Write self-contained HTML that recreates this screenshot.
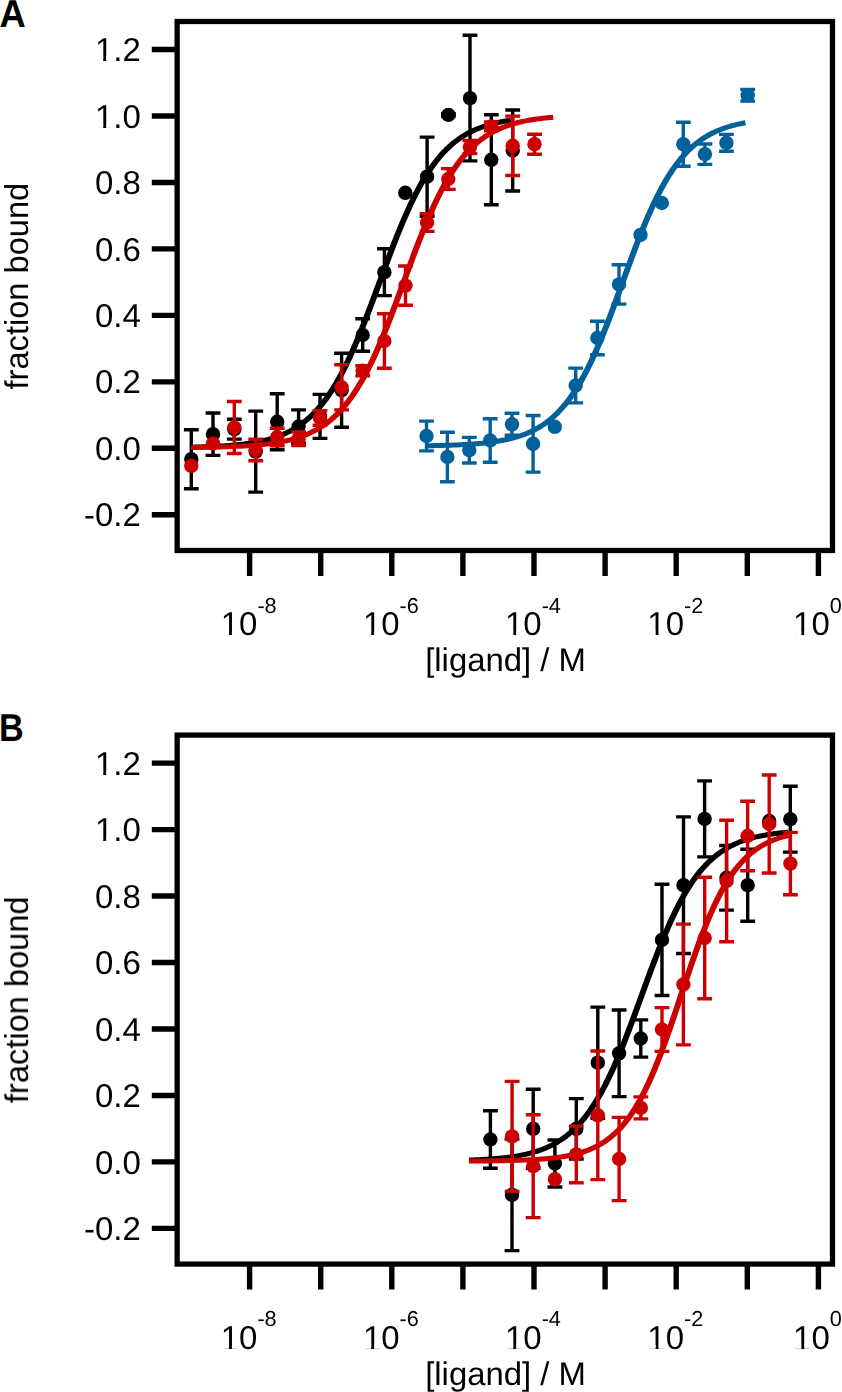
<!DOCTYPE html>
<html><head><meta charset="utf-8"><style>
html,body{margin:0;padding:0;background:#fff;overflow:hidden;}
svg{display:block;}
.t{font-family:"Liberation Sans",sans-serif;font-size:33px;fill:#000;font-kerning:none;text-rendering:geometricPrecision;opacity:0.999;}
.L{font-family:"Liberation Sans",sans-serif;font-size:38.8px;font-weight:bold;fill:#000;font-kerning:none;text-rendering:geometricPrecision;opacity:0.999;}
</style></head><body>
<svg width="842" height="1392" viewBox="0 0 842 1392">
<rect x="177.15" y="21.5" width="655.35" height="529" fill="none" stroke="#000" stroke-width="5.3"/>
<path d="M151.8,49.54H177M151.8,116.00H177M151.8,182.46H177M151.8,248.92H177M151.8,315.38H177M151.8,381.84H177M151.8,448.30H177M151.8,514.76H177M249.60,550V576M320.70,550V576M391.80,550V576M462.90,550V576M534.00,550V576M605.10,550V576M676.20,550V576M747.30,550V576M818.40,550V576" stroke="#000" stroke-width="5.4" fill="none"/>
<g class="t"><text x="94.93" y="61.14">1.2</text><text x="94.93" y="127.60">1.0</text><text x="94.93" y="194.06">0.8</text><text x="94.93" y="260.52">0.6</text><text x="94.93" y="326.98">0.4</text><text x="94.93" y="393.44">0.2</text><text x="94.93" y="459.90">0.0</text><text x="83.94" y="526.36">-0.2</text><text x="220.68" y="634.90">10<tspan x="257.39" y="612.80" font-size="21.7">-8</tspan></text><text x="362.89" y="634.90">10<tspan x="399.60" y="612.80" font-size="21.7">-6</tspan></text><text x="504.93" y="634.90">10<tspan x="541.64" y="612.80" font-size="21.7">-4</tspan></text><text x="647.36" y="634.90">10<tspan x="684.06" y="612.80" font-size="21.7">-2</tspan></text><text x="793.05" y="634.90">10<tspan x="829.76" y="612.80" font-size="21.7">0</tspan></text><text transform="translate(425.16,671.00) scale(1.0056,1)" font-size="32.7">[ligand] / M</text><text transform="translate(28.0,389.00) rotate(-90) scale(0.9881,1)" x="-0.47" y="0" font-size="33">fraction bound</text></g>
<rect x="97.02" y="57.68" width="6.20" height="3.79" fill="#fff"/><rect x="106.14" y="57.68" width="5.95" height="3.79" fill="#fff"/><rect x="97.02" y="124.14" width="6.20" height="3.79" fill="#fff"/><rect x="106.14" y="124.14" width="5.95" height="3.79" fill="#fff"/><rect x="222.78" y="631.44" width="6.20" height="3.79" fill="#fff"/><rect x="231.90" y="631.44" width="5.95" height="3.79" fill="#fff"/><rect x="364.98" y="631.44" width="6.20" height="3.79" fill="#fff"/><rect x="374.10" y="631.44" width="5.95" height="3.79" fill="#fff"/><rect x="507.03" y="631.44" width="6.20" height="3.79" fill="#fff"/><rect x="516.15" y="631.44" width="5.95" height="3.79" fill="#fff"/><rect x="649.45" y="631.44" width="6.20" height="3.79" fill="#fff"/><rect x="658.57" y="631.44" width="5.95" height="3.79" fill="#fff"/><rect x="795.14" y="631.44" width="6.20" height="3.79" fill="#fff"/><rect x="804.26" y="631.44" width="5.95" height="3.79" fill="#fff"/>
<rect x="177.15" y="735.1" width="655.35" height="529" fill="none" stroke="#000" stroke-width="5.3"/>
<path d="M151.8,763.14H177M151.8,829.60H177M151.8,896.06H177M151.8,962.52H177M151.8,1028.98H177M151.8,1095.44H177M151.8,1161.90H177M151.8,1228.36H177M249.60,1263.6V1289.6M320.70,1263.6V1289.6M391.80,1263.6V1289.6M462.90,1263.6V1289.6M534.00,1263.6V1289.6M605.10,1263.6V1289.6M676.20,1263.6V1289.6M747.30,1263.6V1289.6M818.40,1263.6V1289.6" stroke="#000" stroke-width="5.4" fill="none"/>
<g class="t"><text x="94.93" y="774.74">1.2</text><text x="94.93" y="841.20">1.0</text><text x="94.93" y="907.66">0.8</text><text x="94.93" y="974.12">0.6</text><text x="94.93" y="1040.58">0.4</text><text x="94.93" y="1107.04">0.2</text><text x="94.93" y="1173.50">0.0</text><text x="83.94" y="1239.96">-0.2</text><text x="220.68" y="1348.50">10<tspan x="257.39" y="1326.40" font-size="21.7">-8</tspan></text><text x="362.89" y="1348.50">10<tspan x="399.60" y="1326.40" font-size="21.7">-6</tspan></text><text x="504.93" y="1348.50">10<tspan x="541.64" y="1326.40" font-size="21.7">-4</tspan></text><text x="647.36" y="1348.50">10<tspan x="684.06" y="1326.40" font-size="21.7">-2</tspan></text><text x="793.05" y="1348.50">10<tspan x="829.76" y="1326.40" font-size="21.7">0</tspan></text><text transform="translate(425.16,1384.60) scale(1.0056,1)" font-size="32.7">[ligand] / M</text><text transform="translate(28.0,1102.60) rotate(-90) scale(0.9881,1)" x="-0.47" y="0" font-size="33">fraction bound</text></g>
<rect x="97.02" y="771.28" width="6.20" height="3.79" fill="#fff"/><rect x="106.14" y="771.28" width="5.95" height="3.79" fill="#fff"/><rect x="97.02" y="837.74" width="6.20" height="3.79" fill="#fff"/><rect x="106.14" y="837.74" width="5.95" height="3.79" fill="#fff"/><rect x="222.78" y="1345.04" width="6.20" height="3.79" fill="#fff"/><rect x="231.90" y="1345.04" width="5.95" height="3.79" fill="#fff"/><rect x="364.98" y="1345.04" width="6.20" height="3.79" fill="#fff"/><rect x="374.10" y="1345.04" width="5.95" height="3.79" fill="#fff"/><rect x="507.03" y="1345.04" width="6.20" height="3.79" fill="#fff"/><rect x="516.15" y="1345.04" width="5.95" height="3.79" fill="#fff"/><rect x="649.45" y="1345.04" width="6.20" height="3.79" fill="#fff"/><rect x="658.57" y="1345.04" width="5.95" height="3.79" fill="#fff"/><rect x="795.14" y="1345.04" width="6.20" height="3.79" fill="#fff"/><rect x="804.26" y="1345.04" width="5.95" height="3.79" fill="#fff"/>
<text class="L" transform="translate(-0.38,26.9) scale(0.937,1)">A</text>
<text class="L" transform="translate(-1.04,741.1) scale(0.881,1)">B</text>
<path transform="scale(1.2,1)" d="M159.167,447.20 L160.282,447.17 L161.398,447.14 L162.514,447.11 L163.630,447.07 L164.745,447.03 L165.861,446.99 L166.977,446.95 L168.093,446.91 L169.209,446.87 L170.324,446.82 L171.440,446.77 L172.556,446.72 L173.672,446.67 L174.787,446.62 L175.903,446.56 L177.019,446.50 L178.135,446.44 L179.250,446.37 L180.366,446.30 L181.482,446.23 L182.598,446.16 L183.713,446.08 L184.829,446.00 L185.945,445.92 L187.061,445.83 L188.176,445.74 L189.292,445.64 L190.408,445.54 L191.524,445.43 L192.639,445.32 L193.755,445.21 L194.871,445.09 L195.987,444.97 L197.103,444.84 L198.218,444.70 L199.334,444.56 L200.450,444.41 L201.566,444.26 L202.681,444.10 L203.797,443.93 L204.913,443.75 L206.029,443.57 L207.144,443.38 L208.260,443.18 L209.376,442.97 L210.492,442.75 L211.607,442.53 L212.723,442.29 L213.839,442.04 L214.955,441.79 L216.070,441.52 L217.186,441.24 L218.302,440.95 L219.418,440.64 L220.533,440.33 L221.649,440.00 L222.765,439.65 L223.881,439.29 L224.997,438.92 L226.112,438.53 L227.228,438.12 L228.344,437.70 L229.460,437.26 L230.575,436.80 L231.691,436.32 L232.807,435.82 L233.923,435.30 L235.038,434.76 L236.154,434.20 L237.270,433.61 L238.386,433.00 L239.501,432.36 L240.617,431.70 L241.733,431.02 L242.849,430.30 L243.964,429.56 L245.080,428.78 L246.196,427.98 L247.312,427.15 L248.427,426.28 L249.543,425.38 L250.659,424.44 L251.775,423.47 L252.891,422.46 L254.006,421.42 L255.122,420.33 L256.238,419.20 L257.354,418.04 L258.469,416.83 L259.585,415.57 L260.701,414.27 L261.817,412.93 L262.932,411.54 L264.048,410.10 L265.164,408.61 L266.280,407.06 L267.395,405.47 L268.511,403.83 L269.627,402.13 L270.743,400.38 L271.858,398.57 L272.974,396.70 L274.090,394.78 L275.206,392.80 L276.321,390.76 L277.437,388.66 L278.553,386.50 L279.669,384.28 L280.785,382.00 L281.900,379.66 L283.016,377.26 L284.132,374.79 L285.248,372.27 L286.363,369.69 L287.479,367.04 L288.595,364.33 L289.711,361.57 L290.826,358.75 L291.942,355.86 L293.058,352.93 L294.174,349.93 L295.289,346.89 L296.405,343.78 L297.521,340.63 L298.637,337.43 L299.752,334.18 L300.868,330.89 L301.984,327.56 L303.100,324.18 L304.215,320.77 L305.331,317.32 L306.447,313.83 L307.563,310.32 L308.679,306.78 L309.794,303.22 L310.910,299.64 L312.026,296.04 L313.142,292.43 L314.257,288.81 L315.373,285.18 L316.489,281.55 L317.605,277.92 L318.720,274.29 L319.836,270.67 L320.952,267.06 L322.068,263.47 L323.183,259.89 L324.299,256.33 L325.415,252.79 L326.531,249.29 L327.646,245.81 L328.762,242.36 L329.878,238.95 L330.994,235.58 L332.109,232.25 L333.225,228.97 L334.341,225.72 L335.457,222.53 L336.573,219.39 L337.688,216.29 L338.804,213.25 L339.920,210.27 L341.036,207.34 L342.151,204.46 L343.267,201.65 L344.383,198.89 L345.499,196.19 L346.614,193.55 L347.730,190.98 L348.846,188.46 L349.962,186.01 L351.077,183.61 L352.193,181.28 L353.309,179.01 L354.425,176.80 L355.540,174.65 L356.656,172.56 L357.772,170.52 L358.888,168.55 L360.003,166.64 L361.119,164.78 L362.235,162.98 L363.351,161.23 L364.467,159.54 L365.582,157.90 L366.698,156.32 L367.814,154.78 L368.930,153.30 L370.045,151.86 L371.161,150.48 L372.277,149.14 L373.393,147.85 L374.508,146.60 L375.624,145.39 L376.740,144.23 L377.856,143.11 L378.971,142.03 L380.087,140.99 L381.203,139.99 L382.319,139.02 L383.434,138.09 L384.550,137.19 L385.666,136.33 L386.782,135.50 L387.897,134.70 L389.013,133.93 L390.129,133.19 L391.245,132.48 L392.361,131.80 L393.476,131.14 L394.592,130.51 L395.708,129.90 L396.824,129.32 L397.939,128.76 L399.055,128.22 L400.171,127.70 L401.287,127.21 L402.402,126.73 L403.518,126.27 L404.634,125.83 L405.750,125.41 L406.865,125.01 L407.981,124.62 L409.097,124.25 L410.213,123.89 L411.328,123.55 L412.444,123.22 L413.560,122.90 L414.676,122.60 L415.791,122.31 L416.907,122.03 L418.023,121.77 L419.139,121.51 L420.255,121.27 L421.370,121.03 L422.486,120.81 L423.602,120.59 L424.718,120.38 L425.833,120.19" stroke="#000" stroke-width="5.0" fill="none"/>
<path d="M191.30,429.70V488.70M183.90,429.70H198.70M183.90,488.70H198.70M213.00,413.00V455.40M205.60,413.00H220.40M205.60,455.40H220.40M234.30,419.30V439.10M226.90,419.30H241.70M226.90,439.10H241.70M255.70,411.10V492.10M248.30,411.10H263.10M248.30,492.10H263.10M277.20,393.80V449.80M269.80,393.80H284.60M269.80,449.80H284.60M298.60,409.90V443.10M291.20,409.90H306.00M291.20,443.10H306.00M320.00,394.40V438.40M312.60,394.40H327.40M312.60,438.40H327.40M341.60,353.20V427.20M334.20,353.20H349.00M334.20,427.20H349.00M362.70,318.70V351.30M355.30,318.70H370.10M355.30,351.30H370.10M384.40,248.80V295.60M377.00,248.80H391.80M377.00,295.60H391.80M427.10,137.10V216.30M419.70,137.10H434.50M419.70,216.30H434.50M448.40,113.70V116.10M441.00,113.70H455.80M441.00,116.10H455.80M470.00,35.30V160.90M462.60,35.30H477.40M462.60,160.90H477.40M491.30,114.80V204.80M483.90,114.80H498.70M483.90,204.80H498.70M512.70,110.00V191.00M505.30,110.00H520.10M505.30,191.00H520.10" stroke="#000" stroke-width="3.4" fill="none"/>
<circle cx="191.30" cy="459.20" r="7.2" fill="#000"/>
<circle cx="213.00" cy="434.20" r="7.2" fill="#000"/>
<circle cx="234.30" cy="429.20" r="7.2" fill="#000"/>
<circle cx="255.70" cy="451.60" r="7.2" fill="#000"/>
<circle cx="277.20" cy="421.80" r="7.2" fill="#000"/>
<circle cx="298.60" cy="426.50" r="7.2" fill="#000"/>
<circle cx="320.00" cy="416.40" r="7.2" fill="#000"/>
<circle cx="341.60" cy="390.20" r="7.2" fill="#000"/>
<circle cx="362.70" cy="335.00" r="7.2" fill="#000"/>
<circle cx="384.40" cy="272.20" r="7.2" fill="#000"/>
<circle cx="405.30" cy="192.80" r="7.2" fill="#000"/>
<circle cx="427.10" cy="176.70" r="7.2" fill="#000"/>
<circle cx="448.40" cy="114.90" r="7.2" fill="#000"/>
<circle cx="470.00" cy="98.10" r="7.2" fill="#000"/>
<circle cx="491.30" cy="159.80" r="7.2" fill="#000"/>
<circle cx="512.70" cy="150.50" r="7.2" fill="#000"/>
<path transform="scale(1.2,1)" d="M159.167,447.44 L160.430,447.42 L161.692,447.40 L162.955,447.39 L164.218,447.37 L165.481,447.35 L166.744,447.33 L168.007,447.31 L169.270,447.28 L170.533,447.26 L171.796,447.23 L173.059,447.21 L174.321,447.18 L175.584,447.15 L176.847,447.12 L178.110,447.09 L179.373,447.06 L180.636,447.02 L181.899,446.98 L183.162,446.95 L184.425,446.90 L185.688,446.86 L186.950,446.82 L188.213,446.77 L189.476,446.72 L190.739,446.67 L192.002,446.61 L193.265,446.56 L194.528,446.49 L195.791,446.43 L197.054,446.36 L198.317,446.29 L199.579,446.22 L200.842,446.14 L202.105,446.06 L203.368,445.98 L204.631,445.89 L205.894,445.79 L207.157,445.69 L208.420,445.59 L209.683,445.48 L210.946,445.37 L212.209,445.25 L213.471,445.12 L214.734,444.99 L215.997,444.85 L217.260,444.70 L218.523,444.55 L219.786,444.39 L221.049,444.22 L222.312,444.04 L223.575,443.86 L224.838,443.66 L226.100,443.46 L227.363,443.24 L228.626,443.01 L229.889,442.78 L231.152,442.53 L232.415,442.27 L233.678,441.99 L234.941,441.71 L236.204,441.41 L237.467,441.09 L238.729,440.76 L239.992,440.41 L241.255,440.05 L242.518,439.67 L243.781,439.26 L245.044,438.85 L246.307,438.41 L247.570,437.94 L248.833,437.46 L250.096,436.96 L251.358,436.43 L252.621,435.87 L253.884,435.29 L255.147,434.68 L256.410,434.05 L257.673,433.38 L258.936,432.68 L260.199,431.95 L261.462,431.19 L262.725,430.39 L263.987,429.56 L265.250,428.69 L266.513,427.78 L267.776,426.83 L269.039,425.84 L270.302,424.80 L271.565,423.72 L272.828,422.59 L274.091,421.41 L275.354,420.19 L276.616,418.91 L277.879,417.57 L279.142,416.19 L280.405,414.74 L281.668,413.24 L282.931,411.68 L284.194,410.05 L285.457,408.36 L286.720,406.61 L287.983,404.79 L289.245,402.90 L290.508,400.94 L291.771,398.91 L293.034,396.81 L294.297,394.64 L295.560,392.39 L296.823,390.06 L298.086,387.66 L299.349,385.18 L300.612,382.63 L301.874,379.99 L303.137,377.28 L304.400,374.49 L305.663,371.61 L306.926,368.67 L308.189,365.64 L309.452,362.54 L310.715,359.36 L311.978,356.10 L313.241,352.77 L314.503,349.37 L315.766,345.91 L317.029,342.37 L318.292,338.77 L319.555,335.11 L320.818,331.38 L322.081,327.60 L323.344,323.77 L324.607,319.89 L325.870,315.97 L327.132,312.00 L328.395,308.00 L329.658,303.97 L330.921,299.91 L332.184,295.83 L333.447,291.72 L334.710,287.61 L335.973,283.49 L337.236,279.36 L338.499,275.24 L339.762,271.13 L341.024,267.02 L342.287,262.94 L343.550,258.88 L344.813,254.84 L346.076,250.84 L347.339,246.87 L348.602,242.94 L349.865,239.06 L351.128,235.22 L352.391,231.44 L353.653,227.71 L354.916,224.04 L356.179,220.44 L357.442,216.90 L358.705,213.42 L359.968,210.02 L361.231,206.68 L362.494,203.42 L363.757,200.24 L365.020,197.13 L366.282,194.09 L367.545,191.14 L368.808,188.26 L370.071,185.46 L371.334,182.74 L372.597,180.10 L373.860,177.54 L375.123,175.05 L376.386,172.65 L377.649,170.31 L378.911,168.06 L380.174,165.88 L381.437,163.77 L382.700,161.74 L383.963,159.77 L385.226,157.88 L386.489,156.05 L387.752,154.29 L389.015,152.60 L390.278,150.97 L391.540,149.40 L392.803,147.89 L394.066,146.44 L395.329,145.05 L396.592,143.72 L397.855,142.43 L399.118,141.20 L400.381,140.02 L401.644,138.89 L402.907,137.80 L404.169,136.76 L405.432,135.77 L406.695,134.81 L407.958,133.90 L409.221,133.02 L410.484,132.19 L411.747,131.39 L413.010,130.62 L414.273,129.89 L415.536,129.19 L416.798,128.52 L418.061,127.88 L419.324,127.27 L420.587,126.69 L421.850,126.13 L423.113,125.60 L424.376,125.09 L425.639,124.61 L426.902,124.15 L428.165,123.71 L429.427,123.28 L430.690,122.88 L431.953,122.50 L433.216,122.13 L434.479,121.78 L435.742,121.45 L437.005,121.14 L438.268,120.83 L439.531,120.54 L440.794,120.27 L442.056,120.01 L443.319,119.76 L444.582,119.52 L445.845,119.29 L447.108,119.08 L448.371,118.87 L449.634,118.68 L450.897,118.49 L452.160,118.31 L453.423,118.14 L454.685,117.98 L455.948,117.83 L457.211,117.68 L458.474,117.54 L459.737,117.41 L461.000,117.28" stroke="#cc0000" stroke-width="5.0" fill="none"/>
<path d="M234.30,401.50V453.50M226.90,401.50H241.70M226.90,453.50H241.70M255.70,439.20V460.80M248.30,439.20H263.10M248.30,460.80H263.10M277.20,428.30V445.70M269.80,428.30H284.60M269.80,445.70H284.60M298.60,431.90V445.50M291.20,431.90H306.00M291.20,445.50H306.00M320.00,410.70V425.30M312.60,410.70H327.40M312.60,425.30H327.40M341.60,364.70V409.90M334.20,364.70H349.00M334.20,409.90H349.00M362.70,365.70V375.70M355.30,365.70H370.10M355.30,375.70H370.10M384.40,313.80V368.20M377.00,313.80H391.80M377.00,368.20H391.80M405.50,266.00V305.20M398.10,266.00H412.90M398.10,305.20H412.90M427.10,213.60V231.40M419.70,213.60H434.50M419.70,231.40H434.50M448.30,168.60V189.40M440.90,168.60H455.70M440.90,189.40H455.70M469.90,140.50V153.50M462.50,140.50H477.30M462.50,153.50H477.30M491.30,121.90V130.90M483.90,121.90H498.70M483.90,130.90H498.70M512.70,116.10V175.50M505.30,116.10H520.10M505.30,175.50H520.10M534.50,134.20V154.20M527.10,134.20H541.90M527.10,154.20H541.90" stroke="#cc0000" stroke-width="3.4" fill="none"/>
<circle cx="191.30" cy="465.80" r="7.2" fill="#cc0000"/>
<circle cx="213.00" cy="443.50" r="7.2" fill="#cc0000"/>
<circle cx="234.30" cy="427.50" r="7.2" fill="#cc0000"/>
<circle cx="255.70" cy="450.00" r="7.2" fill="#cc0000"/>
<circle cx="277.20" cy="437.00" r="7.2" fill="#cc0000"/>
<circle cx="298.60" cy="438.70" r="7.2" fill="#cc0000"/>
<circle cx="320.00" cy="418.00" r="7.2" fill="#cc0000"/>
<circle cx="341.60" cy="387.30" r="7.2" fill="#cc0000"/>
<circle cx="362.70" cy="370.70" r="7.2" fill="#cc0000"/>
<circle cx="384.40" cy="341.00" r="7.2" fill="#cc0000"/>
<circle cx="405.50" cy="285.60" r="7.2" fill="#cc0000"/>
<circle cx="427.10" cy="222.50" r="7.2" fill="#cc0000"/>
<circle cx="448.30" cy="179.00" r="7.2" fill="#cc0000"/>
<circle cx="469.90" cy="147.00" r="7.2" fill="#cc0000"/>
<circle cx="491.30" cy="126.40" r="7.2" fill="#cc0000"/>
<circle cx="512.70" cy="145.80" r="7.2" fill="#cc0000"/>
<circle cx="534.50" cy="144.20" r="7.2" fill="#cc0000"/>
<path transform="scale(1.2,1)" d="M355.833,445.72 L356.944,445.70 L358.054,445.67 L359.164,445.65 L360.274,445.63 L361.384,445.60 L362.494,445.57 L363.605,445.55 L364.715,445.52 L365.825,445.49 L366.935,445.45 L368.045,445.42 L369.156,445.39 L370.266,445.35 L371.376,445.31 L372.486,445.27 L373.596,445.23 L374.706,445.19 L375.817,445.14 L376.927,445.09 L378.037,445.04 L379.147,444.99 L380.257,444.94 L381.368,444.88 L382.478,444.82 L383.588,444.76 L384.698,444.69 L385.808,444.62 L386.918,444.55 L388.029,444.48 L389.139,444.40 L390.249,444.32 L391.359,444.23 L392.469,444.15 L393.579,444.05 L394.690,443.96 L395.800,443.86 L396.910,443.75 L398.020,443.64 L399.130,443.52 L400.241,443.40 L401.351,443.28 L402.461,443.15 L403.571,443.01 L404.681,442.87 L405.791,442.72 L406.902,442.56 L408.012,442.40 L409.122,442.23 L410.232,442.05 L411.342,441.86 L412.453,441.67 L413.563,441.46 L414.673,441.25 L415.783,441.03 L416.893,440.80 L418.003,440.56 L419.114,440.31 L420.224,440.04 L421.334,439.77 L422.444,439.48 L423.554,439.19 L424.665,438.87 L425.775,438.55 L426.885,438.21 L427.995,437.85 L429.105,437.49 L430.215,437.10 L431.326,436.70 L432.436,436.28 L433.546,435.84 L434.656,435.39 L435.766,434.91 L436.877,434.42 L437.987,433.90 L439.097,433.36 L440.207,432.80 L441.317,432.22 L442.427,431.61 L443.538,430.98 L444.648,430.32 L445.758,429.63 L446.868,428.92 L447.978,428.18 L449.089,427.40 L450.199,426.60 L451.309,425.76 L452.419,424.89 L453.529,423.99 L454.639,423.05 L455.750,422.07 L456.860,421.06 L457.970,420.01 L459.080,418.92 L460.190,417.78 L461.301,416.60 L462.411,415.38 L463.521,414.12 L464.631,412.81 L465.741,411.45 L466.851,410.04 L467.962,408.58 L469.072,407.08 L470.182,405.52 L471.292,403.90 L472.402,402.24 L473.513,400.51 L474.623,398.73 L475.733,396.90 L476.843,395.00 L477.953,393.05 L479.063,391.04 L480.174,388.96 L481.284,386.83 L482.394,384.63 L483.504,382.38 L484.614,380.06 L485.725,377.67 L486.835,375.23 L487.945,372.72 L489.055,370.15 L490.165,367.52 L491.275,364.82 L492.386,362.07 L493.496,359.25 L494.606,356.37 L495.716,353.44 L496.826,350.45 L497.937,347.40 L499.047,344.30 L500.157,341.14 L501.267,337.93 L502.377,334.68 L503.487,331.38 L504.598,328.03 L505.708,324.64 L506.818,321.21 L507.928,317.74 L509.038,314.24 L510.149,310.71 L511.259,307.15 L512.369,303.57 L513.479,299.97 L514.589,296.34 L515.699,292.71 L516.810,289.06 L517.920,285.41 L519.030,281.75 L520.140,278.09 L521.250,274.44 L522.361,270.79 L523.471,267.15 L524.581,263.53 L525.691,259.93 L526.801,256.35 L527.911,252.79 L529.022,249.26 L530.132,245.76 L531.242,242.29 L532.352,238.87 L533.462,235.48 L534.573,232.13 L535.683,228.83 L536.793,225.57 L537.903,222.37 L539.013,219.21 L540.123,216.11 L541.234,213.07 L542.344,210.08 L543.454,207.14 L544.564,204.27 L545.674,201.45 L546.785,198.70 L547.895,196.01 L549.005,193.37 L550.115,190.81 L551.225,188.30 L552.335,185.86 L553.446,183.47 L554.556,181.16 L555.666,178.90 L556.776,176.71 L557.886,174.57 L558.997,172.50 L560.107,170.49 L561.217,168.54 L562.327,166.65 L563.437,164.81 L564.547,163.03 L565.658,161.31 L566.768,159.65 L567.878,158.03 L568.988,156.48 L570.098,154.97 L571.209,153.51 L572.319,152.11 L573.429,150.75 L574.539,149.44 L575.649,148.17 L576.759,146.96 L577.870,145.78 L578.980,144.65 L580.090,143.56 L581.200,142.50 L582.310,141.49 L583.421,140.52 L584.531,139.58 L585.641,138.67 L586.751,137.81 L587.861,136.97 L588.971,136.17 L590.082,135.39 L591.192,134.65 L592.302,133.94 L593.412,133.25 L594.522,132.60 L595.632,131.96 L596.743,131.36 L597.853,130.77 L598.963,130.21 L600.073,129.68 L601.183,129.16 L602.294,128.67 L603.404,128.19 L604.514,127.74 L605.624,127.30 L606.734,126.88 L607.844,126.48 L608.955,126.10 L610.065,125.73 L611.175,125.37 L612.285,125.03 L613.395,124.71 L614.506,124.40 L615.616,124.10 L616.726,123.81 L617.836,123.54 L618.946,123.28 L620.056,123.03 L621.167,122.78" stroke="#02619b" stroke-width="5.0" fill="none"/>
<path d="M426.50,421.10V450.90M419.10,421.10H433.90M419.10,450.90H433.90M447.40,432.30V481.70M440.00,432.30H454.80M440.00,481.70H454.80M469.30,437.40V463.00M461.90,437.40H476.70M461.90,463.00H476.70M490.20,418.70V462.30M482.80,418.70H497.60M482.80,462.30H497.60M512.00,413.30V435.30M504.60,413.30H519.40M504.60,435.30H519.40M533.10,415.50V472.10M525.70,415.50H540.50M525.70,472.10H540.50M575.70,368.10V402.90M568.30,368.10H583.10M568.30,402.90H583.10M597.40,321.30V354.70M590.00,321.30H604.80M590.00,354.70H604.80M619.00,264.70V304.10M611.60,264.70H626.40M611.60,304.10H626.40M683.30,122.20V166.20M675.90,122.20H690.70M675.90,166.20H690.70M704.90,144.00V164.40M697.50,144.00H712.30M697.50,164.40H712.30M726.40,134.40V151.20M719.00,134.40H733.80M719.00,151.20H733.80M747.70,89.50V101.10M740.30,89.50H755.10M740.30,101.10H755.10" stroke="#02619b" stroke-width="3.4" fill="none"/>
<circle cx="426.50" cy="436.00" r="7.2" fill="#02619b"/>
<circle cx="447.40" cy="457.00" r="7.2" fill="#02619b"/>
<circle cx="469.30" cy="450.20" r="7.2" fill="#02619b"/>
<circle cx="490.20" cy="440.50" r="7.2" fill="#02619b"/>
<circle cx="512.00" cy="424.30" r="7.2" fill="#02619b"/>
<circle cx="533.10" cy="443.80" r="7.2" fill="#02619b"/>
<circle cx="554.80" cy="426.80" r="7.2" fill="#02619b"/>
<circle cx="575.70" cy="385.50" r="7.2" fill="#02619b"/>
<circle cx="597.40" cy="338.00" r="7.2" fill="#02619b"/>
<circle cx="619.00" cy="284.40" r="7.2" fill="#02619b"/>
<circle cx="640.50" cy="234.90" r="7.2" fill="#02619b"/>
<circle cx="661.80" cy="203.00" r="7.2" fill="#02619b"/>
<circle cx="683.30" cy="144.20" r="7.2" fill="#02619b"/>
<circle cx="704.90" cy="154.20" r="7.2" fill="#02619b"/>
<circle cx="726.40" cy="142.80" r="7.2" fill="#02619b"/>
<circle cx="747.70" cy="95.30" r="7.2" fill="#02619b"/>
<path transform="scale(1.2,1)" d="M390.917,1160.11 L392.030,1160.06 L393.143,1160.01 L394.257,1159.96 L395.370,1159.90 L396.483,1159.84 L397.597,1159.78 L398.710,1159.72 L399.823,1159.65 L400.937,1159.58 L402.050,1159.51 L403.163,1159.44 L404.276,1159.36 L405.390,1159.27 L406.503,1159.19 L407.616,1159.10 L408.730,1159.00 L409.843,1158.90 L410.956,1158.80 L412.070,1158.69 L413.183,1158.58 L414.296,1158.46 L415.410,1158.34 L416.523,1158.21 L417.636,1158.08 L418.750,1157.94 L419.863,1157.79 L420.976,1157.64 L422.090,1157.48 L423.203,1157.31 L424.316,1157.14 L425.430,1156.96 L426.543,1156.77 L427.656,1156.57 L428.770,1156.37 L429.883,1156.15 L430.996,1155.93 L432.109,1155.69 L433.223,1155.45 L434.336,1155.19 L435.449,1154.92 L436.563,1154.65 L437.676,1154.36 L438.789,1154.05 L439.903,1153.74 L441.016,1153.41 L442.129,1153.06 L443.243,1152.70 L444.356,1152.33 L445.469,1151.94 L446.583,1151.53 L447.696,1151.11 L448.809,1150.67 L449.923,1150.21 L451.036,1149.72 L452.149,1149.22 L453.263,1148.70 L454.376,1148.16 L455.489,1147.59 L456.603,1147.00 L457.716,1146.39 L458.829,1145.75 L459.942,1145.09 L461.056,1144.39 L462.169,1143.67 L463.282,1142.92 L464.396,1142.14 L465.509,1141.33 L466.622,1140.49 L467.736,1139.61 L468.849,1138.70 L469.962,1137.75 L471.076,1136.77 L472.189,1135.75 L473.302,1134.69 L474.416,1133.59 L475.529,1132.45 L476.642,1131.26 L477.756,1130.04 L478.869,1128.76 L479.982,1127.44 L481.096,1126.08 L482.209,1124.66 L483.322,1123.20 L484.435,1121.68 L485.549,1120.12 L486.662,1118.50 L487.775,1116.82 L488.889,1115.09 L490.002,1113.30 L491.115,1111.46 L492.229,1109.56 L493.342,1107.60 L494.455,1105.58 L495.569,1103.50 L496.682,1101.36 L497.795,1099.16 L498.909,1096.89 L500.022,1094.57 L501.135,1092.18 L502.249,1089.73 L503.362,1087.21 L504.475,1084.64 L505.589,1082.00 L506.702,1079.30 L507.815,1076.54 L508.929,1073.71 L510.042,1070.83 L511.155,1067.89 L512.268,1064.90 L513.382,1061.84 L514.495,1058.73 L515.608,1055.57 L516.722,1052.36 L517.835,1049.10 L518.948,1045.79 L520.062,1042.44 L521.175,1039.04 L522.288,1035.60 L523.402,1032.13 L524.515,1028.62 L525.628,1025.09 L526.742,1021.52 L527.855,1017.93 L528.968,1014.31 L530.082,1010.68 L531.195,1007.04 L532.308,1003.38 L533.422,999.71 L534.535,996.04 L535.648,992.37 L536.762,988.71 L537.875,985.05 L538.988,981.40 L540.101,977.76 L541.215,974.14 L542.328,970.54 L543.441,966.96 L544.555,963.42 L545.668,959.90 L546.781,956.41 L547.895,952.96 L549.008,949.55 L550.121,946.19 L551.235,942.86 L552.348,939.58 L553.461,936.35 L554.575,933.17 L555.688,930.05 L556.801,926.98 L557.915,923.96 L559.028,921.00 L560.141,918.10 L561.255,915.25 L562.368,912.47 L563.481,909.75 L564.594,907.09 L565.708,904.49 L566.821,901.96 L567.934,899.49 L569.048,897.08 L570.161,894.73 L571.274,892.44 L572.388,890.22 L573.501,888.06 L574.614,885.96 L575.728,883.92 L576.841,881.94 L577.954,880.02 L579.068,878.15 L580.181,876.35 L581.294,874.60 L582.408,872.91 L583.521,871.27 L584.634,869.68 L585.748,868.15 L586.861,866.67 L587.974,865.23 L589.088,863.85 L590.201,862.52 L591.314,861.23 L592.427,859.98 L593.541,858.79 L594.654,857.63 L595.767,856.52 L596.881,855.44 L597.994,854.41 L599.107,853.41 L600.221,852.45 L601.334,851.53 L602.447,850.64 L603.561,849.79 L604.674,848.97 L605.787,848.17 L606.901,847.42 L608.014,846.68 L609.127,845.98 L610.241,845.31 L611.354,844.66 L612.467,844.04 L613.581,843.44 L614.694,842.87 L615.807,842.31 L616.921,841.79 L618.034,841.28 L619.147,840.79 L620.260,840.32 L621.374,839.87 L622.487,839.44 L623.600,839.03 L624.714,838.64 L625.827,838.26 L626.940,837.89 L628.054,837.54 L629.167,837.21 L630.280,836.89 L631.394,836.58 L632.507,836.29 L633.620,836.00 L634.734,835.73 L635.847,835.47 L636.960,835.22 L638.074,834.99 L639.187,834.76 L640.300,834.54 L641.414,834.33 L642.527,834.13 L643.640,833.94 L644.753,833.75 L645.867,833.58 L646.980,833.41 L648.093,833.25 L649.207,833.09 L650.320,832.94 L651.433,832.80 L652.547,832.67 L653.660,832.54 L654.773,832.41 L655.887,832.29 L657.000,832.18" stroke="#000" stroke-width="5.0" fill="none"/>
<path d="M490.40,1110.80V1168.20M483.00,1110.80H497.80M483.00,1168.20H497.80M512.00,1139.00V1250.60M504.60,1139.00H519.40M504.60,1250.60H519.40M533.20,1089.20V1168.40M525.80,1089.20H540.60M525.80,1168.40H540.60M554.90,1140.00V1187.00M547.50,1140.00H562.30M547.50,1187.00H562.30M576.30,1098.60V1159.00M568.90,1098.60H583.70M568.90,1159.00H583.70M597.80,1007.10V1118.30M590.40,1007.10H605.20M590.40,1118.30H605.20M619.10,1010.00V1096.60M611.70,1010.00H626.50M611.70,1096.60H626.50M640.80,1019.90V1057.10M633.40,1019.90H648.20M633.40,1057.10H648.20M662.00,884.30V995.50M654.60,884.30H669.40M654.60,995.50H669.40M683.50,816.90V953.50M676.10,816.90H690.90M676.10,953.50H690.90M704.60,780.90V856.90M697.20,780.90H712.00M697.20,856.90H712.00M726.50,845.50V910.10M719.10,845.50H733.90M719.10,910.10H733.90M747.70,849.20V921.20M740.30,849.20H755.10M740.30,921.20H755.10M790.30,786.30V852.10M782.90,786.30H797.70M782.90,852.10H797.70" stroke="#000" stroke-width="3.4" fill="none"/>
<circle cx="490.40" cy="1139.50" r="7.2" fill="#000"/>
<circle cx="512.00" cy="1194.80" r="7.2" fill="#000"/>
<circle cx="533.20" cy="1128.80" r="7.2" fill="#000"/>
<circle cx="554.90" cy="1163.50" r="7.2" fill="#000"/>
<circle cx="576.30" cy="1128.80" r="7.2" fill="#000"/>
<circle cx="597.80" cy="1062.70" r="7.2" fill="#000"/>
<circle cx="619.10" cy="1053.30" r="7.2" fill="#000"/>
<circle cx="640.80" cy="1038.50" r="7.2" fill="#000"/>
<circle cx="662.00" cy="939.90" r="7.2" fill="#000"/>
<circle cx="683.50" cy="885.20" r="7.2" fill="#000"/>
<circle cx="704.60" cy="818.90" r="7.2" fill="#000"/>
<circle cx="726.50" cy="877.80" r="7.2" fill="#000"/>
<circle cx="747.70" cy="885.20" r="7.2" fill="#000"/>
<circle cx="769.20" cy="821.00" r="7.2" fill="#000"/>
<circle cx="790.30" cy="819.20" r="7.2" fill="#000"/>
<path transform="scale(1.2,1)" d="M390.917,1161.05 L392.030,1161.04 L393.143,1161.03 L394.257,1161.02 L395.370,1161.01 L396.483,1161.00 L397.597,1160.99 L398.710,1160.98 L399.823,1160.97 L400.937,1160.96 L402.050,1160.95 L403.163,1160.94 L404.276,1160.92 L405.390,1160.91 L406.503,1160.90 L407.616,1160.88 L408.730,1160.86 L409.843,1160.85 L410.956,1160.83 L412.070,1160.81 L413.183,1160.79 L414.296,1160.77 L415.410,1160.75 L416.523,1160.73 L417.636,1160.71 L418.750,1160.68 L419.863,1160.66 L420.976,1160.63 L422.090,1160.60 L423.203,1160.57 L424.316,1160.54 L425.430,1160.51 L426.543,1160.48 L427.656,1160.44 L428.770,1160.40 L429.883,1160.36 L430.996,1160.32 L432.109,1160.28 L433.223,1160.23 L434.336,1160.18 L435.449,1160.13 L436.563,1160.08 L437.676,1160.03 L438.789,1159.97 L439.903,1159.91 L441.016,1159.84 L442.129,1159.78 L443.243,1159.71 L444.356,1159.63 L445.469,1159.56 L446.583,1159.48 L447.696,1159.39 L448.809,1159.30 L449.923,1159.21 L451.036,1159.11 L452.149,1159.01 L453.263,1158.90 L454.376,1158.79 L455.489,1158.67 L456.603,1158.54 L457.716,1158.41 L458.829,1158.27 L459.942,1158.13 L461.056,1157.98 L462.169,1157.82 L463.282,1157.66 L464.396,1157.48 L465.509,1157.30 L466.622,1157.11 L467.736,1156.91 L468.849,1156.70 L469.962,1156.48 L471.076,1156.25 L472.189,1156.01 L473.302,1155.76 L474.416,1155.49 L475.529,1155.21 L476.642,1154.92 L477.756,1154.62 L478.869,1154.30 L479.982,1153.97 L481.096,1153.62 L482.209,1153.25 L483.322,1152.86 L484.435,1152.46 L485.549,1152.04 L486.662,1151.60 L487.775,1151.14 L488.889,1150.66 L490.002,1150.15 L491.115,1149.62 L492.229,1149.07 L493.342,1148.49 L494.455,1147.89 L495.569,1147.26 L496.682,1146.60 L497.795,1145.91 L498.909,1145.19 L500.022,1144.43 L501.135,1143.65 L502.249,1142.82 L503.362,1141.97 L504.475,1141.07 L505.589,1140.14 L506.702,1139.16 L507.815,1138.15 L508.929,1137.09 L510.042,1135.98 L511.155,1134.83 L512.268,1133.63 L513.382,1132.39 L514.495,1131.09 L515.608,1129.74 L516.722,1128.33 L517.835,1126.87 L518.948,1125.36 L520.062,1123.78 L521.175,1122.14 L522.288,1120.45 L523.402,1118.68 L524.515,1116.86 L525.628,1114.97 L526.742,1113.01 L527.855,1110.98 L528.968,1108.89 L530.082,1106.72 L531.195,1104.48 L532.308,1102.17 L533.422,1099.78 L534.535,1097.33 L535.648,1094.79 L536.762,1092.19 L537.875,1089.50 L538.988,1086.75 L540.101,1083.92 L541.215,1081.01 L542.328,1078.03 L543.441,1074.98 L544.555,1071.86 L545.668,1068.66 L546.781,1065.40 L547.895,1062.07 L549.008,1058.67 L550.121,1055.21 L551.235,1051.69 L552.348,1048.11 L553.461,1044.47 L554.575,1040.78 L555.688,1037.04 L556.801,1033.26 L557.915,1029.43 L559.028,1025.57 L560.141,1021.67 L561.255,1017.74 L562.368,1013.78 L563.481,1009.80 L564.594,1005.81 L565.708,1001.80 L566.821,997.78 L567.934,993.76 L569.048,989.75 L570.161,985.73 L571.274,981.73 L572.388,977.75 L573.501,973.78 L574.614,969.84 L575.728,965.93 L576.841,962.05 L577.954,958.20 L579.068,954.40 L580.181,950.64 L581.294,946.93 L582.408,943.28 L583.521,939.67 L584.634,936.13 L585.748,932.64 L586.861,929.22 L587.974,925.86 L589.088,922.57 L590.201,919.34 L591.314,916.19 L592.427,913.11 L593.541,910.10 L594.654,907.16 L595.767,904.30 L596.881,901.52 L597.994,898.80 L599.107,896.17 L600.221,893.60 L601.334,891.11 L602.447,888.70 L603.561,886.36 L604.674,884.09 L605.787,881.89 L606.901,879.77 L608.014,877.71 L609.127,875.73 L610.241,873.81 L611.354,871.95 L612.467,870.17 L613.581,868.44 L614.694,866.78 L615.807,865.18 L616.921,863.64 L618.034,862.16 L619.147,860.73 L620.260,859.36 L621.374,858.04 L622.487,856.77 L623.600,855.55 L624.714,854.38 L625.827,853.26 L626.940,852.18 L628.054,851.15 L629.167,850.16 L630.280,849.21 L631.394,848.30 L632.507,847.42 L633.620,846.59 L634.734,845.79 L635.847,845.02 L636.960,844.28 L638.074,843.58 L639.187,842.91 L640.300,842.27 L641.414,841.65 L642.527,841.06 L643.640,840.50 L644.753,839.96 L645.867,839.45 L646.980,838.95 L648.093,838.49 L649.207,838.04 L650.320,837.61 L651.433,837.20 L652.547,836.81 L653.660,836.43 L654.773,836.08 L655.887,835.73 L657.000,835.41" stroke="#cc0000" stroke-width="5.0" fill="none"/>
<path d="M512.10,1081.40V1191.40M504.70,1081.40H519.50M504.70,1191.40H519.50M533.20,1114.80V1217.60M525.80,1114.80H540.60M525.80,1217.60H540.60M576.30,1126.10V1182.70M568.90,1126.10H583.70M568.90,1182.70H583.70M597.80,1051.00V1179.60M590.40,1051.00H605.20M590.40,1179.60H605.20M619.10,1117.40V1200.60M611.70,1117.40H626.50M611.70,1200.60H626.50M640.80,1096.90V1118.90M633.40,1096.90H648.20M633.40,1118.90H648.20M662.00,1007.60V1051.40M654.60,1007.60H669.40M654.60,1051.40H669.40M683.40,924.10V1044.90M676.00,924.10H690.80M676.00,1044.90H690.80M704.70,877.20V998.80M697.30,877.20H712.10M697.30,998.80H712.10M726.60,820.20V941.80M719.20,820.20H734.00M719.20,941.80H734.00M747.60,801.30V870.70M740.20,801.30H755.00M740.20,870.70H755.00M769.20,775.00V873.00M761.80,775.00H776.60M761.80,873.00H776.60M790.40,832.40V894.80M783.00,832.40H797.80M783.00,894.80H797.80" stroke="#cc0000" stroke-width="3.4" fill="none"/>
<circle cx="512.10" cy="1136.40" r="7.2" fill="#cc0000"/>
<circle cx="533.20" cy="1166.20" r="7.2" fill="#cc0000"/>
<circle cx="554.90" cy="1179.20" r="7.2" fill="#cc0000"/>
<circle cx="576.30" cy="1154.40" r="7.2" fill="#cc0000"/>
<circle cx="597.80" cy="1115.30" r="7.2" fill="#cc0000"/>
<circle cx="619.10" cy="1159.00" r="7.2" fill="#cc0000"/>
<circle cx="640.80" cy="1107.90" r="7.2" fill="#cc0000"/>
<circle cx="662.00" cy="1029.50" r="7.2" fill="#cc0000"/>
<circle cx="683.40" cy="984.50" r="7.2" fill="#cc0000"/>
<circle cx="704.70" cy="938.00" r="7.2" fill="#cc0000"/>
<circle cx="726.60" cy="881.00" r="7.2" fill="#cc0000"/>
<circle cx="747.60" cy="836.00" r="7.2" fill="#cc0000"/>
<circle cx="769.20" cy="824.00" r="7.2" fill="#cc0000"/>
<circle cx="790.40" cy="863.60" r="7.2" fill="#cc0000"/>
</svg>
</body></html>
